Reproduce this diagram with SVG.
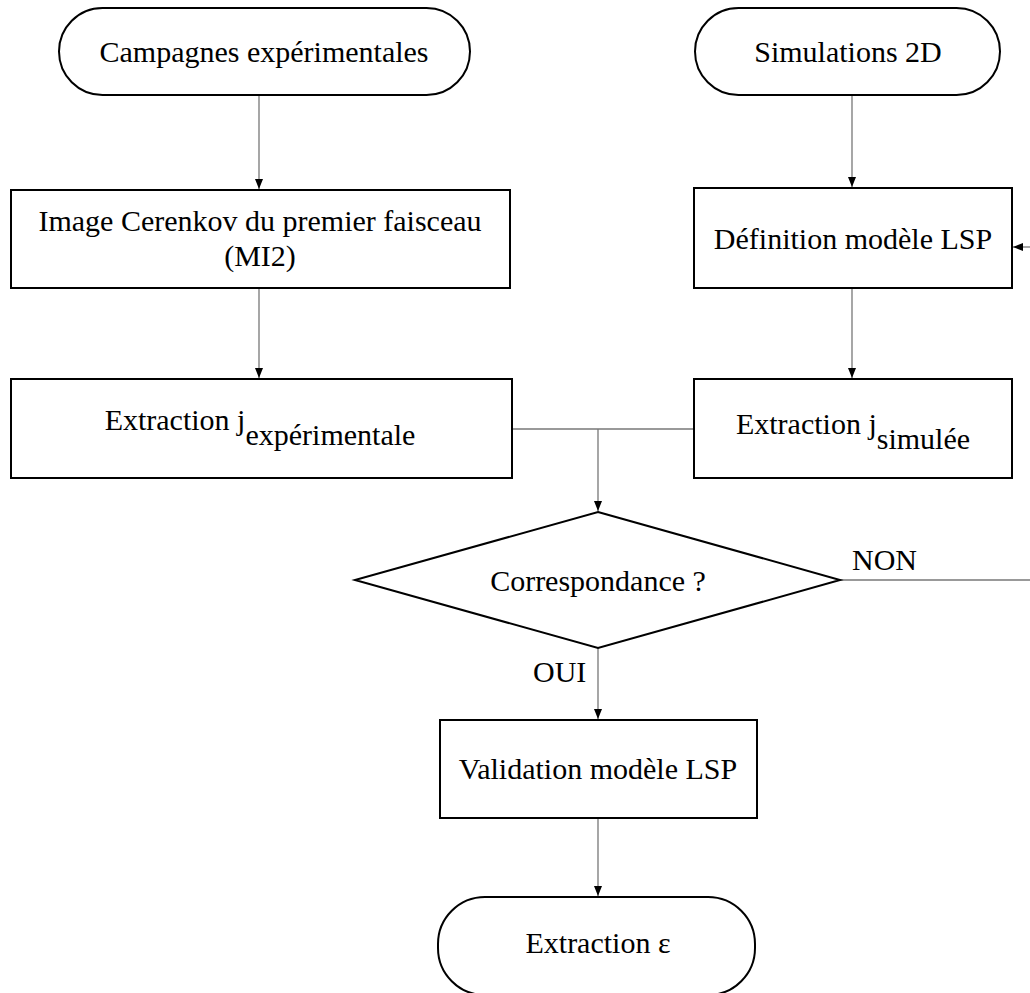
<svg xmlns="http://www.w3.org/2000/svg" width="1030" height="993" viewBox="0 0 1030 993">
<style>
.shape{fill:#fff;stroke:#000;stroke-width:2}
.t{font-family:"Liberation Serif","Times New Roman",serif;font-size:30px;fill:#000;text-anchor:middle}
.t2{font-family:"Liberation Serif","Times New Roman",serif;font-size:30px;fill:#000}
.c{fill:none;stroke:#777;stroke-width:1.3}
</style>
<defs>
<marker id="ah" viewBox="0 0 10 10" refX="10" refY="5" markerWidth="10" markerHeight="10" markerUnits="userSpaceOnUse" orient="auto">
<path d="M0,1 L10,5 L0,9 Z" fill="#000"/>
</marker>
</defs>
<g id="connectors">
<path class="c" d="M259,95 V189" marker-end="url(#ah)"/>
<path class="c" d="M259,288 V378" marker-end="url(#ah)"/>
<path class="c" d="M852,95 V187" marker-end="url(#ah)"/>
<path class="c" d="M852,288 V378" marker-end="url(#ah)"/>
<path class="c" d="M512,429 H694"/>
<path class="c" d="M598,429 V511" marker-end="url(#ah)"/>
<path class="c" d="M840,580 H1030"/>
<path class="c" d="M1030,247 H1013" marker-end="url(#ah)"/>
<path class="c" d="M598,648 V719" marker-end="url(#ah)"/>
<path class="c" d="M598,818 V896" marker-end="url(#ah)"/>
</g>
<g id="n-campagnes">
<rect class="shape" x="59" y="8" width="411" height="87" rx="43.5"/>
<text class="t" x="264" y="62">Campagnes expérimentales</text>
</g>
<g id="n-simulations">
<rect class="shape" x="695" y="8" width="305" height="87" rx="43.5"/>
<text class="t" x="848" y="62">Simulations 2D</text>
</g>
<g id="n-image">
<rect class="shape" x="11" y="190" width="499" height="98"/>
<text class="t" x="260" y="231">Image Cerenkov du premier faisceau</text>
<text class="t" x="260" y="266">(MI2)</text>
</g>
<g id="n-definition">
<rect class="shape" x="694" y="188" width="318" height="100"/>
<text class="t" x="853" y="249">Définition modèle LSP</text>
</g>
<g id="n-extraction-exp">
<rect class="shape" x="11" y="379" width="501" height="99"/>
<text class="t" x="260" y="430">Extraction j<tspan dy="15">expérimentale</tspan></text>
</g>
<g id="n-extraction-sim">
<rect class="shape" x="694" y="379" width="318" height="99"/>
<text class="t" x="853" y="434">Extraction j<tspan dy="15">simulée</tspan></text>
</g>
<g id="n-correspondance">
<polygon class="shape" points="598,512 840,580 598,648 355,580"/>
<text class="t2" x="598" y="591" text-anchor="middle">Correspondance ?</text>
</g>
<text class="t2" x="852" y="570">NON</text>
<text class="t2" x="533" y="682">OUI</text>
<g id="n-validation">
<rect class="shape" x="440" y="720" width="317" height="98"/>
<text class="t" x="598" y="779">Validation modèle LSP</text>
</g>
<g id="n-extraction-eps">
<rect class="shape" x="438" y="897" width="317" height="98" rx="47"/>
<text class="t" x="598" y="953">Extraction ε</text>
</g>
</svg>
